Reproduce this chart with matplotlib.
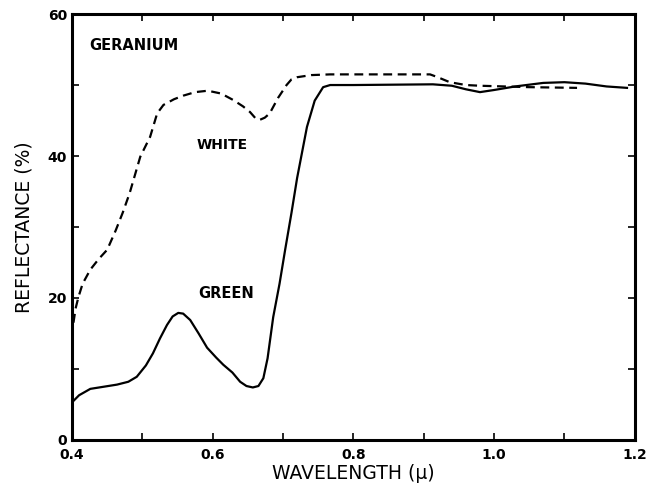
import matplotlib.pyplot as plt

# reflectance curves of geranium leaves
green_wl = [0.400, 0.410, 0.426, 0.445, 0.464, 0.480, 0.492, 0.505, 0.515, 0.525,
            0.535, 0.543, 0.551, 0.558, 0.568, 0.580, 0.592, 0.605, 0.615, 0.628,
            0.639, 0.648, 0.657, 0.665, 0.672, 0.678, 0.686, 0.695, 0.703, 0.712,
            0.720, 0.734, 0.745, 0.757, 0.767, 0.800, 0.913, 0.940, 0.960, 0.980,
            1.000, 1.030, 1.070, 1.100, 1.130, 1.160, 1.189]
green_refl = [5.3, 6.3, 7.2, 7.5, 7.8, 8.2, 8.9, 10.5, 12.2, 14.3,
              16.2, 17.4, 17.9, 17.8, 16.9, 15.0, 13.0, 11.6, 10.6, 9.5,
              8.2, 7.6, 7.4, 7.6, 8.7, 11.5, 17.3, 22.0, 26.8, 32.0,
              36.9, 44.1, 47.8, 49.7, 50.0, 50.0, 50.1, 49.9, 49.4, 49.0,
              49.3, 49.8, 50.3, 50.4, 50.2, 49.8, 49.6]

white_wl = [0.400, 0.402, 0.405, 0.409, 0.415, 0.426, 0.438, 0.450, 0.462, 0.472,
            0.482, 0.497, 0.511, 0.521, 0.530, 0.545, 0.558, 0.575, 0.593, 0.612,
            0.629, 0.643, 0.653, 0.661, 0.667, 0.674, 0.681, 0.693, 0.705, 0.712,
            0.720, 0.740, 0.767, 0.909, 0.920, 0.937, 0.960, 0.980, 1.050, 1.118]
white_refl = [14.5, 16.5, 18.5, 20.1, 22.0, 24.0, 25.5, 26.8, 29.5, 32.0,
              34.8, 39.9, 42.7, 46.0, 47.2, 48.0, 48.5, 49.0, 49.2, 48.8,
              47.9, 47.0, 46.2, 45.3, 45.1, 45.4, 46.0, 48.2, 50.0, 50.8,
              51.1, 51.4, 51.5, 51.5, 51.1, 50.4, 50.0, 49.9, 49.7, 49.6]

x_ticks = [0.4, 0.6, 0.8, 1.0, 1.2]
x_labels = ["0.4", "0.6", "0.8", "1.0", "1.2"]
y_ticks = [0, 20, 40, 60]

fig = plt.figure(figsize=(6.49, 4.86), dpi=100)
ax = fig.add_axes([0.111, 0.0947, 0.867, 0.8764])

ax.plot(green_wl, green_refl, color="black", lw=1.6)
ax.plot(white_wl, white_refl, color="black", lw=1.6, linestyle=(0, (4, 2.5)))

ax.set_xlim(0.4, 1.2)
ax.set_ylim(0, 60)
ax.set_xticks(x_ticks)
ax.set_xticklabels(x_labels)
ax.set_xticks([0.5, 0.7, 0.9, 1.1], minor=True)
ax.set_yticks(y_ticks)
ax.set_yticks([10, 30, 50], minor=True)

for s in ax.spines.values():
    s.set_linewidth(2.2)
ax.tick_params(which="both", direction="in", top=True, right=True,
               length=5, width=1.2, labelsize=10)
ax.tick_params(axis="x", which="major", pad=6)
for lab in ax.get_xticklabels() + ax.get_yticklabels():
    lab.set_fontweight("bold")

ax.set_xlabel("WAVELENGTH (μ)", fontsize=13.5, labelpad=1)
ax.set_ylabel("REFLECTANCE (%)", fontsize=13.5, labelpad=10)

ax.text(0.425, 55.5, "GERANIUM", fontsize=10.5, fontweight="bold", va="center")
ax.text(0.577, 41.5, "WHITE", fontsize=10, fontweight="bold", va="center")
ax.text(0.58, 20.7, "GREEN", fontsize=10.5, fontweight="bold", va="center")

fig.savefig("out.png", dpi=100)
